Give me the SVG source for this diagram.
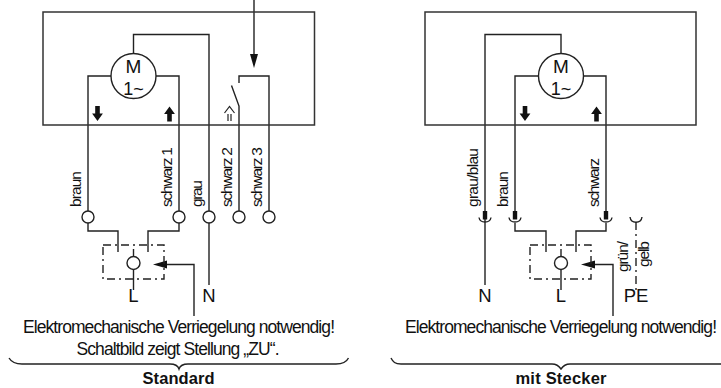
<svg xmlns="http://www.w3.org/2000/svg" width="721" height="388" viewBox="0 0 721 388">
<style>
.w{fill:none;stroke:#222;stroke-width:1.4}
.box{fill:none;stroke:#333;stroke-width:1.5}
.c{fill:#fff;stroke:#222;stroke-width:1.4}
.d{fill:none;stroke:#222;stroke-width:1.4;stroke-dasharray:8 4 2 4}
.a{fill:#111;stroke:none}
text{font-family:"Liberation Sans",Arial,sans-serif;fill:#111;font-size:17.5px}
.t{text-anchor:middle}
.b{font-weight:bold;font-size:16.500px;text-anchor:middle}
.v{font-size:15.500px}
.m{font-size:19px;text-anchor:middle}
.big{font-size:18.500px;text-anchor:middle}
</style>
<defs>
<g id="dn"><path class="a" d="M-2.300 -7.500H2.300V0H5.400L0 7.500L-5.400 0H-2.300Z"/></g>
<g id="up"><path class="a" d="M-2.300 7.500H2.300V0H5.400L0 -7.500L-5.400 0H-2.300Z"/></g>
<g id="socket"><path class="a" d="M-2.200 -9H2.200V-0.500H-2.200Z"/><path class="w" d="M-6 -2.500C-5 3.500 5 3.500 6 -2.500"/></g>
</defs>
<g id="connectors">
<path class="w" d="M88 217V76H111M156 76H179V217"/>
<path class="w" d="M133.500 53V34.500H209V285"/>
<path class="w" d="M239 211V106L231.500 85.500"/>
<path class="w" d="M239 83V76H269V211"/>
<path class="w" d="M254 0V58"/>
<path class="a" d="M250 54H258L254 68Z"/>
<path class="w" d="M88 223V231H118V252"/>
<path class="w" d="M179 223V231H148V252"/>
<path class="w" d="M133.500 249V290"/>
<path class="w" d="M194 316V264.500H166"/>
<path class="a" d="M153 264.500L167 260.500V268.500Z"/>
<path class="w" d="M9 358C12 363 16 364 22 364H170C175 364 178 366 179 369C180 366 183 364 188 364H336C342 364 346 363 348.500 358"/>
<path class="w" d="M561 53V34.500H485V285"/>
<path class="w" d="M515 217V76H538M583 76H606V217"/>
<path class="w" d="M515 223V231H546V252"/>
<path class="w" d="M606 223V231H576V252"/>
<path class="w" d="M561 249V290"/>
<path class="w" d="M613 316V264.500H594"/>
<path class="a" d="M581 264.500L595 260.500V268.500Z"/>
<path class="w" d="M391 358C393 362 395 364 401 364H552C556 364 559 366 561 369C563 366 566 364 570 364H721"/>
<path class="d" d="M636 222V290"/>
<path class="w" d="M630 217C631 224 641 224 642 217"/>
</g>
<g id="box-standard"><path class="box" d="M43 12H314.500V125H43Z"/>
<path class="d" d="M103 245H164V279H103Z"/></g>
<g id="box-stecker"><path class="box" d="M425 12H696V125H425Z"/>
<path class="d" d="M530 245H591V279H530Z"/></g>
<g id="motor-left"><circle class="c" cx="133.500" cy="76" r="22.500"/>
<text class="m" x="133.500" y="73">M</text><text class="m" x="133.500" y="95" style="font-size:18px">1~</text></g>
<g id="motor-right"><circle class="c" cx="561" cy="76" r="22.500"/>
<text class="m" x="561" y="73">M</text><text class="m" x="561" y="95" style="font-size:18px">1~</text></g>
<g id="arrows">
<use href="#dn" x="97.500" y="113.500"/><use href="#up" x="169.500" y="114"/>
<use href="#dn" x="525" y="113.500"/><use href="#up" x="596.500" y="114"/>
<path class="w" d="M224.500 113L229.500 106.500L234.500 113M228 114V121M231 114V121" style="stroke-width:1.200"/>
</g>
<g id="terminals-left">
<circle class="c" cx="88" cy="217" r="6"/><circle class="c" cx="179" cy="217" r="6"/><circle class="c" cx="209" cy="217" r="6"/><circle class="c" cx="239" cy="217" r="6"/><circle class="c" cx="269" cy="217" r="6"/>
<circle class="c" cx="133.500" cy="263" r="6.500"/>
</g>
<g id="terminals-right">
<use href="#socket" x="485" y="220"/><use href="#socket" x="515" y="220"/><use href="#socket" x="606" y="220"/>
<circle class="c" cx="561" cy="263" r="6.500"/>
</g>
<g id="labels-left">
<text class="v" transform="translate(81,207) rotate(-90)" textLength="36">braun</text>
<text class="v" transform="translate(172,207) rotate(-90)" textLength="60">schwarz 1</text>
<text class="v" transform="translate(202,207) rotate(-90)" textLength="27">grau</text>
<text class="v" transform="translate(232,207) rotate(-90)" textLength="60">schwarz 2</text>
<text class="v" transform="translate(262,207) rotate(-90)" textLength="60">schwarz 3</text>
<text class="big" x="133.500" y="302">L</text>
<text class="big" x="209" y="302">N</text>
<text class="t" x="179" y="333" textLength="312">Elektromechanische Verriegelung notwendig!</text>
<text class="t" x="178" y="355" textLength="203">Schaltbild zeigt Stellung „ZU“.</text>
<text class="b" x="178.500" y="384" textLength="72">Standard</text>
</g>
<g id="labels-right">
<text class="v" transform="translate(478,207) rotate(-90)" textLength="59">grau/blau</text>
<text class="v" transform="translate(508,207) rotate(-90)" textLength="36">braun</text>
<text class="v" transform="translate(599,207) rotate(-90)" textLength="49">schwarz</text>
<text class="v" transform="translate(628,272) rotate(-90)" textLength="31">grün/</text>
<text class="v" transform="translate(649,267) rotate(-90)" textLength="26">gelb</text>
<text class="big" x="485" y="302">N</text>
<text class="big" x="561" y="302">L</text>
<text class="big" x="636" y="302">PE</text>
<text class="t" x="561" y="333" textLength="312">Elektromechanische Verriegelung notwendig!</text>
<text class="b" x="561" y="384" textLength="91">mit Stecker</text>
</g>
</svg>
